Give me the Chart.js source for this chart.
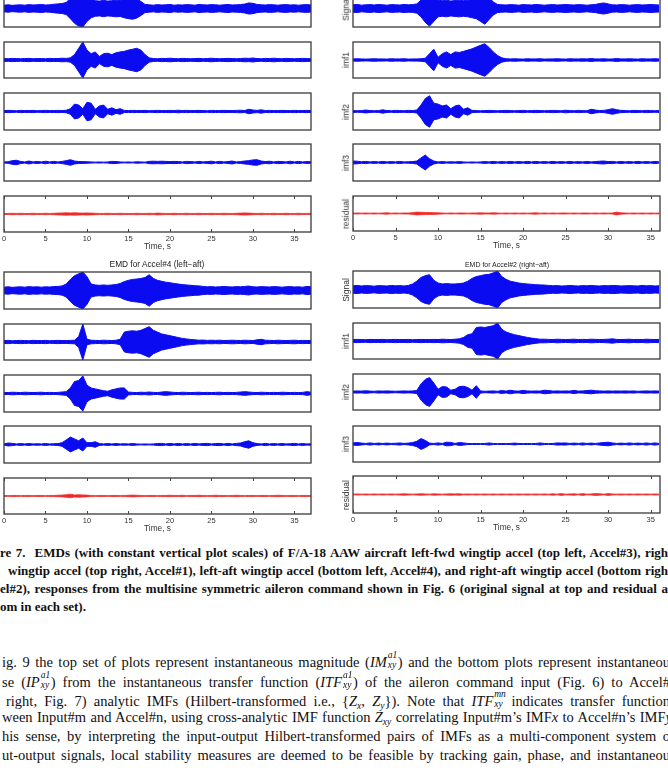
<!DOCTYPE html>
<html><head><meta charset="utf-8">
<script src="https://cdn.jsdelivr.net/npm/chart.js@4.4.1/dist/chart.umd.min.js"></script>
<style>
html,body{margin:0;padding:0;background:#fff;}
body{width:668px;height:773px;overflow:hidden;position:relative}
canvas{position:absolute}
.lab{position:absolute;font-family:Arial,"Liberation Sans",sans-serif;color:#333;white-space:nowrap;line-height:1}
.yl{transform:translate(-50%,-50%) rotate(-90deg);font-size:8.5px}
.ttl{transform:translate(-50%,-50%)}
.cap{position:absolute;font-family:"Liberation Serif","Times New Roman",serif;font-weight:bold;font-size:13px;white-space:nowrap;color:#111;line-height:1}
.par{position:absolute;font-family:"Liberation Serif","Times New Roman",serif;font-size:14.5px;white-space:nowrap;color:#111;line-height:1}
.ss{position:relative;display:inline-block;width:11px;height:1em;vertical-align:baseline}
.ss .sp{position:absolute;left:1px;top:-1px;font-size:9.5px;font-style:italic;line-height:1}
.ss .sb{position:absolute;left:1px;top:9px;font-size:9.5px;font-style:italic;line-height:1}
sub{font-size:9.5px;vertical-align:-3px;line-height:0}
</style></head>
<body>
<script>
// ---------- data: envelope amplitudes (fraction of panel half-height), sampled every 0.5 s ----------
const STEP = 0.5;
const TICKS = [0,5,10,15,20,25,30,35];
const PANEL_LABELS = ['Signal','imf1','imf2','imf3','residual'];

// top-left set (Accel#3, left-fwd)
const TL_signal = [.18,.2,.17,.19,.2,.18,.21,.19,.2,.22,.19,.2,.23,.25,.27,.33,.55,.8,.95,1.0,.7,.5,.42,.4,.44,.4,.42,.45,.43,.5,.55,.58,.52,.38,.22,.2,.18,.21,.19,.2,.22,.18,.2,.19,.21,.2,.18,.22,.2,.19,.21,.2,.18,.2,.22,.19,.2,.21,.24,.3,.28,.22,.2,.19,.21,.2,.18,.2,.21,.19,.2,.18,.2,.21,.19];
const TL_imf1 = [.08,.07,.09,.08,.07,.08,.09,.07,.08,.08,.07,.09,.08,.08,.1,.09,.12,.3,.65,1.0,.55,.35,.45,.2,.35,.38,.3,.4,.45,.48,.55,.6,.65,.55,.3,.12,.08,.07,.09,.08,.1,.08,.07,.09,.08,.07,.08,.09,.07,.08,.1,.08,.07,.08,.09,.08,.07,.08,.1,.09,.11,.08,.07,.09,.08,.1,.08,.07,.09,.08,.07,.08,.09,.08,.07];
const TL_imf2 = [.05,.06,.05,.04,.06,.05,.05,.06,.04,.05,.06,.05,.05,.06,.05,.07,.15,.4,.35,.15,.5,.45,.12,.3,.35,.12,.2,.1,.15,.06,.05,.06,.05,.05,.06,.04,.05,.06,.05,.05,.06,.05,.07,.05,.06,.05,.05,.06,.05,.04,.06,.05,.05,.06,.05,.05,.06,.07,.05,.12,.08,.06,.09,.05,.06,.05,.05,.06,.05,.05,.06,.05,.05,.06,.05];
const TL_imf3 = [.03,.04,.1,.12,.06,.03,.08,.03,.06,.03,.07,.03,.06,.03,.06,.1,.15,.08,.05,.05,.04,.03,.02,.03,.02,.03,.06,.05,.03,.02,.03,.02,.04,.03,.02,.06,.07,.06,.07,.06,.05,.06,.05,.03,.06,.05,.03,.06,.03,.05,.07,.03,.06,.03,.05,.08,.03,.05,.08,.1,.14,.15,.08,.05,.07,.03,.06,.05,.03,.07,.03,.06,.03,.05,.04];
const TL_residual = [.03,.03,.04,.03,.04,.03,.03,.04,.03,.03,.04,.03,.04,.05,.06,.07,.06,.07,.06,.05,.06,.05,.04,.03,.03,.04,.03,.03,.04,.03,.03,.03,.04,.03,.03,.04,.03,.05,.04,.03,.03,.04,.03,.03,.04,.03,.03,.04,.03,.03,.04,.03,.03,.04,.03,.03,.04,.05,.06,.05,.04,.03,.04,.03,.03,.04,.03,.03,.04,.03,.03,.04,.03,.03,.04];

// top-right set (Accel#1, right-fwd)
const TR_signal = [.2,.22,.18,.2,.21,.19,.22,.2,.18,.21,.2,.19,.22,.2,.21,.25,.45,.75,.95,.7,.45,.42,.45,.4,.43,.45,.42,.45,.5,.55,.7,.85,.6,.35,.22,.2,.19,.21,.2,.18,.21,.2,.19,.22,.2,.18,.2,.21,.19,.2,.22,.2,.19,.21,.2,.18,.2,.22,.27,.3,.25,.2,.19,.21,.2,.18,.2,.21,.19,.2,.22,.2,.19];
const TR_imf1 = [.06,.07,.06,.05,.06,.07,.06,.06,.05,.07,.06,.06,.07,.05,.06,.06,.07,.1,.35,.6,.15,.35,.45,.3,.45,.42,.48,.55,.62,.72,.82,.9,.7,.45,.25,.12,.07,.06,.07,.06,.05,.07,.06,.06,.07,.05,.06,.06,.07,.06,.05,.07,.06,.06,.07,.06,.08,.06,.06,.07,.05,.06,.08,.06,.06,.07,.06,.05,.07,.06,.06,.07,.06];
const TR_imf2 = [.05,.04,.05,.08,.05,.04,.05,.09,.05,.04,.06,.05,.04,.06,.05,.08,.35,.7,.85,.45,.4,.3,.35,.15,.3,.35,.12,.2,.06,.05,.04,.05,.06,.05,.04,.05,.06,.05,.04,.05,.06,.04,.05,.06,.05,.04,.05,.06,.05,.04,.07,.05,.04,.06,.05,.04,.12,.08,.05,.06,.1,.15,.1,.06,.05,.04,.06,.05,.04,.06,.05,.04,.05];
const TR_imf3 = [.08,.07,.04,.06,.03,.05,.03,.06,.03,.05,.03,.06,.03,.04,.05,.08,.25,.4,.2,.08,.03,.05,.03,.04,.03,.05,.03,.02,.03,.02,.03,.05,.03,.06,.03,.05,.03,.06,.03,.05,.03,.06,.03,.06,.03,.05,.03,.06,.03,.05,.03,.06,.03,.05,.03,.06,.03,.05,.07,.08,.05,.06,.03,.06,.03,.05,.03,.06,.03,.05,.03,.06,.03];
const TR_residual = [.02,.03,.02,.03,.02,.03,.02,.03,.04,.02,.03,.02,.03,.03,.05,.08,.07,.06,.06,.05,.04,.03,.02,.03,.02,.03,.03,.02,.03,.03,.04,.03,.03,.04,.03,.02,.03,.02,.03,.02,.03,.02,.03,.04,.02,.03,.02,.03,.02,.03,.03,.02,.03,.02,.03,.03,.02,.03,.02,.03,.02,.03,.08,.04,.03,.02,.03,.02,.03,.02,.03,.02,.03];

// bottom-left set (Accel#4, left-aft)
const BL_signal = [.18,.2,.17,.19,.2,.18,.21,.19,.2,.18,.2,.19,.21,.22,.25,.35,.6,.8,.9,1.0,.75,.35,.3,.28,.3,.28,.3,.32,.38,.48,.55,.6,.62,.65,.7,.85,.65,.55,.5,.45,.42,.38,.35,.32,.3,.28,.26,.25,.22,.2,.21,.19,.2,.22,.2,.19,.21,.2,.22,.24,.2,.19,.21,.2,.19,.21,.2,.18,.2,.21,.19,.2,.18,.22,.2];
const BL_imf1 = [.08,.09,.07,.08,.09,.08,.07,.09,.08,.08,.09,.07,.08,.09,.08,.08,.09,.1,.3,1.0,.15,.1,.09,.08,.1,.09,.08,.1,.15,.55,.6,.62,.6,.65,.75,.85,.65,.55,.45,.4,.35,.3,.25,.2,.17,.14,.12,.1,.11,.09,.1,.09,.1,.08,.09,.1,.09,.08,.1,.09,.08,.12,.15,.1,.09,.08,.1,.09,.08,.09,.1,.08,.09,.08,.09];
const BL_imf2 = [.06,.05,.07,.06,.05,.07,.06,.05,.06,.07,.05,.06,.05,.06,.08,.1,.3,.65,.7,.95,.45,.3,.25,.2,.15,.12,.2,.25,.3,.3,.08,.06,.05,.07,.06,.08,.06,.05,.08,.1,.08,.06,.05,.07,.06,.05,.06,.07,.05,.06,.05,.06,.07,.05,.06,.05,.06,.08,.1,.08,.06,.05,.07,.06,.05,.06,.05,.07,.06,.05,.06,.05,.06,.1,.07];
const BL_imf3 = [.03,.08,.06,.03,.05,.03,.05,.03,.04,.03,.05,.03,.04,.05,.1,.25,.4,.3,.2,.35,.1,.1,.15,.05,.03,.05,.03,.05,.03,.04,.03,.05,.03,.02,.03,.02,.03,.05,.06,.03,.06,.03,.06,.03,.05,.03,.06,.03,.05,.06,.03,.05,.06,.03,.06,.03,.06,.08,.15,.2,.1,.05,.03,.06,.03,.05,.03,.05,.03,.04,.06,.03,.05,.03,.04];
const BL_residual = [.03,.02,.03,.03,.02,.03,.03,.02,.03,.03,.02,.03,.03,.04,.05,.07,.1,.06,.07,.06,.05,.03,.02,.03,.03,.02,.03,.03,.02,.03,.04,.05,.04,.03,.02,.03,.03,.02,.03,.03,.04,.03,.03,.04,.02,.03,.03,.04,.03,.02,.03,.04,.03,.03,.02,.03,.04,.03,.02,.03,.03,.02,.03,.03,.02,.03,.04,.03,.02,.03,.03,.02,.03,.03,.02];

// bottom-right set (Accel#2, right-aft)
const BR_signal = [.2,.22,.19,.21,.2,.18,.21,.2,.19,.22,.2,.21,.19,.22,.3,.45,.65,.75,.8,.5,.35,.3,.32,.3,.3,.32,.35,.45,.6,.7,.75,.8,.82,.9,1.0,.7,.55,.45,.4,.35,.32,.3,.28,.26,.25,.24,.22,.2,.21,.19,.2,.22,.2,.19,.21,.2,.22,.2,.19,.21,.2,.22,.21,.19,.2,.21,.2,.19,.22,.2,.21,.19,.2];
const BR_imf1 = [.08,.09,.08,.07,.09,.08,.08,.09,.07,.08,.09,.08,.08,.09,.07,.08,.09,.08,.08,.09,.08,.1,.09,.08,.1,.12,.2,.35,.4,.75,.78,.75,.8,.85,1.0,.65,.5,.42,.35,.3,.25,.2,.16,.13,.1,.1,.09,.08,.1,.09,.08,.09,.1,.08,.09,.08,.1,.09,.08,.09,.1,.12,.09,.08,.09,.1,.08,.09,.08,.1,.09,.08,.09];
const BR_imf2 = [.05,.06,.05,.07,.05,.04,.06,.05,.06,.05,.04,.05,.06,.05,.06,.08,.45,.7,.8,.5,.15,.3,.28,.1,.15,.3,.32,.25,.1,.35,.06,.04,.05,.06,.04,.08,.05,.1,.06,.05,.09,.06,.05,.06,.05,.1,.08,.05,.06,.05,.06,.05,.09,.05,.06,.08,.1,.07,.06,.05,.06,.05,.06,.05,.06,.05,.06,.04,.05,.06,.05,.06,.05];
const BR_imf3 = [.06,.08,.05,.03,.06,.03,.05,.03,.05,.03,.04,.06,.03,.05,.08,.15,.3,.2,.05,.03,.06,.03,.1,.09,.03,.08,.06,.03,.02,.03,.02,.03,.06,.03,.02,.03,.02,.03,.05,.03,.02,.03,.02,.03,.06,.03,.02,.03,.06,.05,.06,.03,.05,.03,.06,.03,.05,.03,.06,.08,.1,.06,.03,.05,.03,.06,.03,.05,.03,.06,.03,.06,.03];
const BR_residual = [.02,.03,.02,.03,.02,.03,.02,.03,.02,.03,.02,.03,.04,.03,.02,.03,.04,.03,.02,.04,.03,.02,.03,.04,.03,.04,.02,.03,.02,.03,.02,.03,.02,.03,.02,.03,.02,.03,.02,.03,.02,.03,.02,.03,.02,.03,.02,.04,.02,.05,.02,.03,.04,.02,.05,.02,.03,.05,.04,.02,.05,.03,.02,.03,.02,.03,.02,.03,.02,.03,.02,.03,.02];

// ---------- layout ----------
const BLUE = '#0b0bf2', RED = '#f02a2a';
const SETS = [
  {left:4,   w:307, tops:[-10,42,93,144,196],  h:[37,36,37,37,36], xmax:37,   ylab:false, series:[TL_signal,TL_imf1,TL_imf2,TL_imf3,TL_residual]},
  {left:353, w:307, tops:[-10,42,93,144,196],  h:[37,36,37,37,35], xmax:36.1, ylab:true,  series:[TR_signal,TR_imf1,TR_imf2,TR_imf3,TR_residual]},
  {left:4,   w:307, tops:[272,324,375,426,478],h:[37,36,37,37,36], xmax:37,   ylab:false, series:[BL_signal,BL_imf1,BL_imf2,BL_imf3,BL_residual]},
  {left:353, w:307, tops:[271,323,374,426,476],h:[37,36,36,36,37], xmax:36.1, ylab:true,  series:[BR_signal,BR_imf1,BR_imf2,BR_imf3,BR_residual]}
];
const PL=8, PR=6, PT=3, PB=3, AX=20;

function framePlugin(isBottom){
  return {id:'frame', afterDraw(chart){
    const {ctx, chartArea:a} = chart;
    ctx.save();
    ctx.strokeStyle='#3a3a3a'; ctx.lineWidth=1.3;
    ctx.strokeRect(a.left, a.top, a.right-a.left, a.bottom-a.top);
    if(isBottom){
      const xs = chart.scales.x; ctx.lineWidth=1; ctx.strokeStyle='#444';
      for(const t of xs.ticks){
        const x = Math.round(xs.getPixelForValue(t.value))+0.5;
        ctx.beginPath(); ctx.moveTo(x,a.bottom); ctx.lineTo(x,a.bottom-3);
        ctx.moveTo(x,a.top); ctx.lineTo(x,a.top+3); ctx.stroke();
      }
    }
    ctx.restore();
  }};
}

function makePanel(set,k){
  const isBottom = k===4;
  const h = set.h[k];
  const c = document.createElement('canvas');
  const W = set.w+PL+PR, H = h+PT+(isBottom?AX:PB);
  c.width=W; c.height=H;
  c.style.left=(set.left-PL)+'px'; c.style.top=(set.tops[k]-PT)+'px';
  document.body.appendChild(c);
  const amp = set.series[k];
  const col = isBottom ? RED : BLUE;
  const bw = isBottom ? 0.8 : 1;
  const xScale = {type:'linear',min:0,max:set.xmax,display:isBottom,
    grid:{display:false,drawTicks:false},border:{display:false},
    ticks:{padding:2,font:{size:7.5,family:'Arial'},color:'#333',maxRotation:0,autoSkip:false},
    afterBuildTicks:s=>{s.ticks=TICKS.map(v=>({value:v}));},
    title:{display:true,text:'Time, s',font:{size:8.3,family:'Arial'},color:'#333',padding:{top:0,bottom:0}}};
  if(isBottom) xScale.afterFit = s=>{s.height=AX;s.paddingLeft=0;s.paddingRight=0;};
  new Chart(c,{
    type:'line',
    data:{datasets:[
      {data:amp.map((a,i)=>({x:i*STEP,y:a})), borderColor:col, borderWidth:bw, pointRadius:0, fill:false},
      {data:amp.map((a,i)=>({x:i*STEP,y:-a})), borderColor:col, borderWidth:bw, pointRadius:0, fill:'-1', backgroundColor:col}
    ]},
    options:{
      animation:false, responsive:false, devicePixelRatio:1, events:[],
      layout:{padding:{left:PL,right:PR,top:PT,bottom:isBottom?0:PB}},
      plugins:{legend:{display:false},tooltip:{enabled:false},title:{display:false}},
      scales:{x:xScale, y:{min:-1,max:1,display:false}}
    },
    plugins:[framePlugin(isBottom)]
  });
  if(set.ylab){
    const d=document.createElement('div'); d.className='lab yl'; d.textContent=PANEL_LABELS[k];
    d.style.left=(set.left-7)+'px'; d.style.top=(set.tops[k]+h/2)+'px';
    document.body.appendChild(d);
  }
}
SETS.forEach(s=>{for(let k=0;k<5;k++) makePanel(s,k);});

function addLab(text,x,y,size){
  const d=document.createElement('div'); d.className='lab ttl'; d.textContent=text;
  d.style.left=x+'px'; d.style.top=y+'px'; d.style.fontSize=size+'px'; d.style.color='#222';
  document.body.appendChild(d);
}
addLab('EMD for Accel#4 (left\u2212aft)',157,264,8.3);
addLab('EMD for Accel#2 (right\u2212aft)',507,264,7);

// ---------- caption and paragraph text ----------
const sup = (a,b)=>`<span class="ss"><span class="sp">${a}</span><span class="sb">${b}</span></span>`;
const CAPTION = [
  {x:0, y:553, end:668, html:'re 7.&nbsp; EMDs (with constant vertical plot scales) of F/A-18 AAW aircraft left-fwd wingtip accel (top left, Accel#3), righ'},
  {x:8, y:571, end:668, html:'wingtip accel (top right, Accel#1), left-aft wingtip accel (bottom left, Accel#4), and right-aft wingtip accel (bottom righ'},
  {x:0, y:589, end:668, html:'el#2), responses from the multisine symmetric aileron command shown in Fig. 6 (original signal at top and residual a'},
  {x:0, y:607, end:null, html:'om in each set).'}
];
const PARA = [
  {x:2, y:660, end:670, html:`ig. 9 the top set of plots represent instantaneous magnitude (<i>IM</i>${sup('a1','xy')}) and the bottom plots represent instantaneou`},
  {x:2, y:680, end:670, html:`se (<i>IP</i>${sup('a1','xy')}) from the instantaneous transfer function (<i>ITF</i>${sup('a1','xy')}) of the aileron command input (Fig. 6) to Accel#`},
  {x:6, y:699, end:670, html:`right, Fig. 7) analytic IMFs (Hilbert-transformed i.e., {<i>Z<sub>x</sub></i>, <i>Z<sub>y</sub></i>}). Note that <i>ITF</i>${sup('mn','xy')} indicates transfer function`},
  {x:2, y:718, end:672, html:`ween Input#m and Accel#n, using cross-analytic IMF function <i>Z<sub>xy</sub></i> correlating Input#m\u2019s IMF<i>x</i> to Accel#n\u2019s IMF<i>y</i>`},
  {x:2, y:737, end:670, html:'his sense, by interpreting the input-output Hilbert-transformed pairs of IMFs as a multi-component system o'},
  {x:2, y:756, end:670, html:'ut-output signals, local stability measures are deemed to be feasible by tracking gain, phase, and instantaneou'}
];
function addLines(lines,cls,size){
  lines.forEach(L=>{
    const d=document.createElement('div'); d.className=cls; d.innerHTML=L.html;
    d.style.left=L.x+'px'; d.style.top=(L.y-size*0.55)+'px';
    document.body.appendChild(d);
    if(L.end){
      const w=d.getBoundingClientRect().width;
      const n=(d.textContent.match(/[ \u00a0]/g)||[]).length;
      if(n) d.style.wordSpacing=((L.end-L.x-w)/n)+'px';
    }
  });
}
addLines(CAPTION,'cap',13);
addLines(PARA,'par',14.5);
</script>
</body></html>
